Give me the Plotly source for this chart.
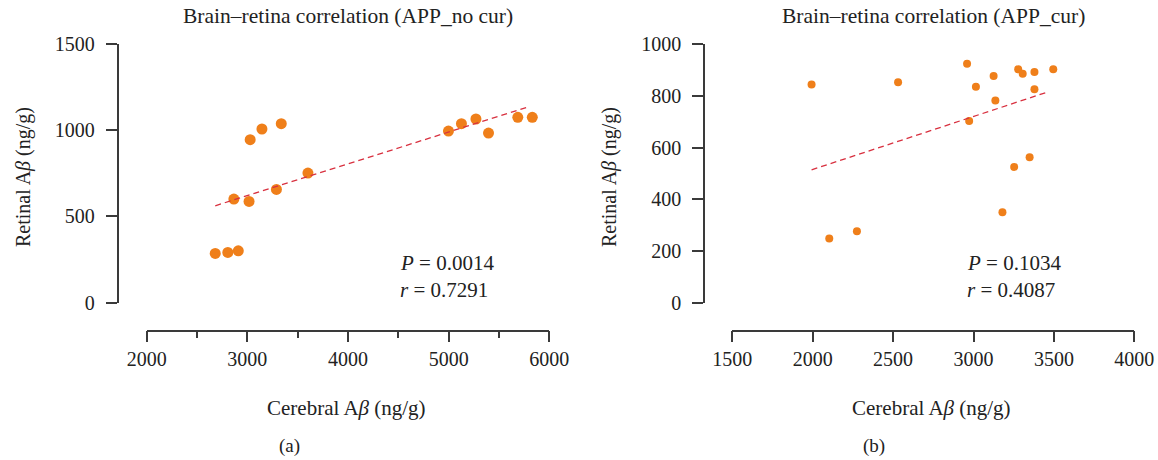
import plotly.graph_objects as go

# ---- data ----
# Panel (a): APP_no cur
a_cerebral = [2681, 2806, 2910, 2866, 3017, 3028, 3145, 3337, 3289, 3602,
              4998, 5127, 5271, 5396, 5687, 5831]
a_retinal = [285, 291, 300, 601, 587, 946, 1008, 1039, 657, 752,
             996, 1039, 1066, 984, 1076, 1076]
a_trend_x = [2681, 5801]
a_trend_y = [562, 1138]
a_stats = ["<i>P</i> = 0.0014", "<i>r</i> = 0.7291"]

# Panel (b): APP_cur
b_cerebral = [1993, 2103, 2275, 2531, 2960, 2973, 3015, 3125, 3136, 3180,
              3253, 3278, 3306, 3349, 3379, 3379, 3496]
b_retinal = [844, 248, 276, 853, 925, 703, 836, 877, 782, 350,
             525, 903, 886, 563, 893, 826, 903]
b_trend_x = [1993, 3461]
b_trend_y = [514, 815]
b_stats = ["<i>P</i> = 0.1034", "<i>r</i> = 0.4087"]

titles = ["Brain\u2013retina correlation (APP_no cur)", "Brain\u2013retina correlation (APP_cur)"]
x_title = "Cerebral A<i>\u03b2</i> (ng/g)"
y_title = "Retinal A<i>\u03b2</i> (ng/g)"
panel_labels = ["(a)", "(b)"]

a_xticks = [2000, 3000, 4000, 5000, 6000]
a_yticks = [0, 500, 1000, 1500]
b_xticks = [1500, 2000, 2500, 3000, 3500, 4000]
b_yticks = [0, 200, 400, 600, 800, 1000]

# ---- style ----
W, H = 1158, 460
FONT = "Liberation Serif"
ORANGE = "#EF7F1A"
RED = "#D8303F"
AX = "#3a3a3a"
TXT = "#222"

def px(x):
    return x / W

def py(y):
    return 1 - y / H

fig = go.Figure()

fig.add_trace(go.Scatter(x=a_cerebral, y=a_retinal, mode="markers",
                         marker=dict(color=ORANGE, size=11), xaxis="x", yaxis="y",
                         showlegend=False))
fig.add_trace(go.Scatter(x=a_trend_x, y=a_trend_y, mode="lines",
                         line=dict(color=RED, width=1.3, dash="6px,4px"),
                         xaxis="x", yaxis="y", showlegend=False))
fig.add_trace(go.Scatter(x=b_cerebral, y=b_retinal, mode="markers",
                         marker=dict(color=ORANGE, size=8), xaxis="x2", yaxis="y2",
                         showlegend=False))
fig.add_trace(go.Scatter(x=b_trend_x, y=b_trend_y, mode="lines",
                         line=dict(color=RED, width=1.3, dash="6px,4px"),
                         xaxis="x2", yaxis="y2", showlegend=False))

common = dict(showgrid=False, zeroline=False, showline=True, linecolor=AX,
              linewidth=1.5, ticks="outside", tickcolor=AX, tickwidth=1.5,
              ticklen=11, tickfont=dict(family=FONT, size=20, color=TXT))

ydom = [py(302.5), py(44.3)]
xpos = py(330.7)

fig.update_layout(
    width=W, height=H,
    margin=dict(l=0, r=0, t=0, b=0, autoexpand=False),
    paper_bgcolor="white", plot_bgcolor="white",
    font=dict(family=FONT, color=TXT),
    xaxis=dict(domain=[px(146.7), px(549.3)], range=[2000, 6000],
               tickvals=a_xticks, anchor="free", position=xpos,
               minor=dict(ticks="outside", dtick=500, ticklen=7, tickcolor=AX, tickwidth=1.5),
               **common),
    yaxis=dict(domain=ydom, range=[0, 1500], tickvals=a_yticks,
               anchor="free", position=px(117.5), ticklabelstandoff=7, **common),
    xaxis2=dict(domain=[px(732.3), px(1134.3)], range=[1500, 4000],
                tickvals=b_xticks, anchor="free", position=xpos, **common),
    yaxis2=dict(domain=ydom, range=[0, 1000], tickvals=b_yticks,
                anchor="free", position=px(704), ticklabelstandoff=7, **common),
)

annos = []
centers = [(146.7 + 549.3) / 2, (732.3 + 1134.3) / 2]
yaxis_x = [23, 609]

def label(text, x, y, size, **kw):
    d = dict(text=text, x=px(x), y=py(y), xref="paper", yref="paper",
             xanchor="center", yanchor="middle", showarrow=False,
             font=dict(family=FONT, size=size, color=TXT))
    d.update(kw)
    annos.append(d)

for i in range(2):
    label(titles[i], centers[i], 16, 21.5)
    label(x_title, centers[i] - 2, 408, 21)
    label(panel_labels[i], centers[i] - 59, 446, 19)
    label(y_title, yaxis_x[i], 177, 20, textangle=-90)

stat_x = [398, 964.8]
for i, st in enumerate([a_stats, b_stats]):
    for j, line in enumerate(st):
        label(line, stat_x[i], 263 + 27 * j, 21, xanchor="left")

fig.update_layout(annotations=annos)

fig.write_html("out.html", config={"displayModeBar": False},
               post_script="document.body.style.margin='0';")
